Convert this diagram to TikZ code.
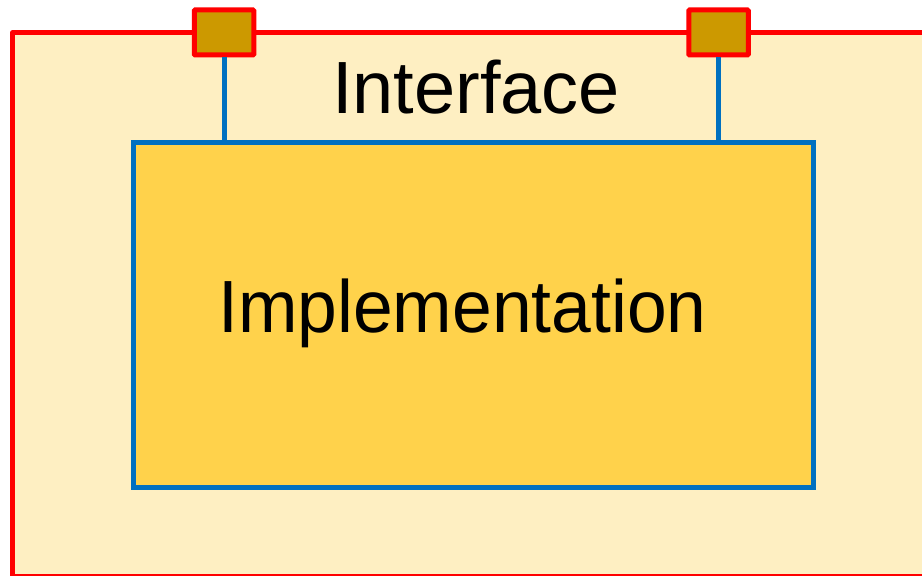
\documentclass[tikz,border=0pt]{standalone}
\usepackage{fontspec}
\setmainfont{Liberation Sans}
\definecolor{ifacefill}{HTML}{FEEFC2}
\definecolor{implfill}{HTML}{FFD24B}
\definecolor{portfill}{HTML}{CC9900}
\definecolor{wireblue}{HTML}{0070C0}
\begin{document}
\begin{tikzpicture}[x=0.5pt,y=-0.5pt,
    ifacebox/.style={draw=red,fill=ifacefill,line width=2.5pt,line join=round},
    implbox/.style={draw=wireblue,fill=implfill,line width=2.5pt,minimum width=339.75pt,minimum height=172.25pt,inner sep=0pt},
    portbox/.style={draw=red,fill=portfill,line width=2.5pt,minimum width=29.75pt,minimum height=22.5pt,inner sep=0pt,rounded corners=0.5pt},
    wire/.style={draw=wireblue,line width=2.5pt},
    bigtext/.style={font=\fontsize{37}{40}\selectfont,inner sep=0pt,anchor=base}]
    \clip (0,0) rectangle (922,576);
    \draw[ifacebox] (12.5,32.5) rectangle (940,576.5);
    \node[implbox] (impl) at (473.25,315.25) {};
    \node[bigtext] (ifacetext) at (476,114) {Interface};
    \node[bigtext,xscale=0.965] (impltext) at (462.5,333) {Implementation};
    \foreach \p/\x in {portA/224,portB/718.5} {
        \node[portbox] (\p) at (\x,32.5) {};
        \draw[wire] (\p.south) -- (\p.south |- impl.north);
    }
\end{tikzpicture}
\end{document}
